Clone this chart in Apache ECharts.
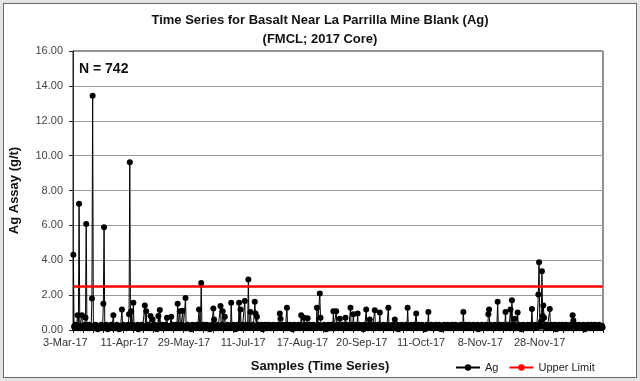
<!DOCTYPE html>
<html>
<head>
<meta charset="utf-8">
<script src="https://cdn.jsdelivr.net/npm/echarts@6/dist/echarts.min.js"></script>
<style>
html,body{margin:0;padding:0;background:#e4e4e4;}
#frame{position:absolute;left:3px;top:3px;width:632px;height:373px;border:1px solid #6a6a6a;background:#fff;}
#chart{position:absolute;left:-4px;top:-4px;width:640px;height:381px;}
</style>
</head>
<body>
<div id="frame"><div id="chart"></div></div>
<script>
// ---- data ----
const titleText = 'Time Series for Basalt Near La Parrilla Mine Blank (Ag)';
const subTitleText = '(FMCL; 2017 Core)';
const sampleCount = 742;
const tickLabels = ['3-Mar-17','11-Apr-17','29-May-17','11-Jul-17','17-Aug-17','20-Sep-17','11-Oct-17','8-Nov-17','28-Nov-17'];
const labelStep = 83;
const upperLimit = 2.5;
const yTicks = [0,2,4,6,8,10,12,14,16];
const agValues = [
4.32,0.2,0.1,0.3,0.15,0.2,0.84,0.1,7.24,0.2,0.1,0.25,0.84,0.15,0.1,0.2,0.3,0.7,6.08,0.2,
0.1,0.15,0.3,0.1,0.2,0.25,1.8,13.43,0.2,0.1,0.15,0.3,0.1,0.2,0.05,0.15,0.25,0.1,0.2,0.3,
0.1,0.2,1.5,5.89,0.15,0.1,0.3,0.2,0.05,0.15,0.25,0.1,0.2,0.3,0.15,0.1,0.84,0.2,0.1,0.25,
0.15,0.3,0.1,0.2,0.05,0.25,0.1,0.2,1.18,0.15,0.3,0.1,0.2,0.15,0.25,0.1,0.2,0.3,0.9,9.62,
0.2,1.08,0.15,0.3,1.56,0.1,0.2,0.25,0.1,0.15,0.3,0.05,0.2,0.1,0.25,0.15,0.3,0.1,0.2,0.15,
1.41,0.2,1.08,0.1,0.3,0.15,0.2,0.1,0.8,0.25,0.1,0.6,0.2,0.15,0.3,0.1,0.2,0.05,0.25,0.8,
0.15,1.14,0.2,0.1,0.3,0.15,0.25,0.1,0.2,0.3,0.1,0.7,0.2,0.15,0.1,0.25,0.2,0.76,0.1,0.3,
0.15,0.2,0.1,0.25,0.3,0.1,1.5,0.2,0.15,1.08,0.1,0.3,0.2,1.1,0.15,0.25,0.1,1.83,0.2,0.1,
0.3,0.15,0.2,0.1,0.25,0.05,0.2,0.3,0.1,0.15,0.2,0.25,0.1,0.3,0.15,0.2,1.18,0.1,0.25,2.7,
0.2,0.1,0.3,0.15,0.2,0.1,0.25,0.3,0.1,0.2,0.15,0.05,0.25,0.1,0.3,0.2,1.24,0.6,0.15,0.1,
0.2,0.3,0.1,0.25,0.15,0.2,1.37,0.1,0.3,1.08,0.2,0.15,0.76,0.1,0.25,0.2,0.3,0.1,0.15,0.2,
0.1,1.56,0.25,0.15,0.3,0.1,0.2,0.05,0.25,0.15,0.3,0.1,1.56,0.2,1.18,0.15,0.1,0.3,0.2,0.25,
1.66,0.1,0.2,0.3,0.15,2.9,0.2,0.1,1.03,0.25,0.15,0.3,0.1,0.2,1.62,0.95,0.2,0.76,0.1,0.3,
0.15,0.2,0.1,0.25,0.3,0.05,0.2,0.15,0.1,0.3,0.2,0.25,0.1,0.15,0.3,0.2,0.1,0.25,0.15,0.2,
0.3,0.1,0.2,0.15,0.25,0.1,0.3,0.2,0.15,0.95,0.65,0.2,0.1,0.3,0.15,0.25,0.1,0.2,0.3,1.28,
0.1,0.2,0.15,0.3,0.1,0.25,0.2,0.05,0.15,0.3,0.1,0.2,0.25,0.15,0.1,0.3,0.2,0.1,0.25,0.84,
0.15,0.2,0.1,0.7,0.3,0.15,0.2,0.1,0.67,0.25,0.1,0.3,0.2,0.15,0.1,0.25,0.3,0.1,0.2,0.15,
0.1,1.28,0.2,0.3,0.15,2.1,0.7,0.1,0.25,0.2,0.15,0.3,0.1,0.2,0.05,0.25,0.15,0.3,0.1,0.2,
0.25,0.1,0.3,0.15,1.08,0.2,0.1,0.25,1.08,0.15,0.3,0.1,0.2,0.65,0.15,0.25,0.1,0.3,0.2,0.15,
0.1,0.7,0.2,0.3,0.15,0.1,0.25,0.2,1.28,0.1,0.3,0.15,0.9,0.2,0.1,0.25,0.3,0.15,0.95,0.1,
0.2,0.3,0.15,0.1,0.25,0.2,0.05,0.3,0.15,0.1,1.18,0.2,0.25,0.1,0.3,0.6,0.15,0.2,0.1,0.25,
0.3,0.15,1.13,0.1,0.2,0.25,0.15,0.3,0.1,1.0,0.2,0.15,0.25,0.1,0.3,0.2,0.15,0.1,0.25,0.2,
0.3,1.28,0.1,0.2,0.15,0.25,0.1,0.3,0.2,0.15,0.6,0.1,0.25,0.2,0.3,0.05,0.15,0.2,0.1,0.25,
0.3,0.15,0.2,0.1,0.25,0.15,0.3,0.1,1.28,0.2,0.15,0.25,0.1,0.3,0.2,0.15,0.1,0.25,0.3,0.2,
0.95,0.1,0.15,0.3,0.2,0.25,0.1,0.15,0.3,0.2,0.1,0.25,0.05,0.2,0.15,0.3,0.1,1.03,0.2,0.25,
0.15,0.3,0.1,0.2,0.25,0.15,0.1,0.3,0.2,0.15,0.25,0.1,0.3,0.2,0.15,0.05,0.25,0.1,0.2,0.3,
0.15,0.1,0.25,0.2,0.3,0.1,0.15,0.2,0.25,0.1,0.3,0.15,0.2,0.1,0.25,0.3,0.15,0.2,0.1,0.25,
0.2,0.15,0.3,0.1,0.2,0.25,1.03,0.15,0.1,0.3,0.2,0.25,0.1,0.15,0.3,0.2,0.1,0.25,0.15,0.2,
0.3,0.1,0.2,0.15,0.25,0.1,0.3,0.05,0.2,0.15,0.25,0.1,0.3,0.2,0.15,0.1,0.25,0.2,0.3,0.15,
0.1,0.9,1.18,0.2,0.3,0.15,0.1,0.25,0.2,0.15,0.3,0.1,0.2,0.25,1.62,0.15,0.1,0.3,0.2,0.15,
0.25,0.1,0.3,0.2,0.15,1.03,0.1,0.25,0.2,0.3,0.15,0.1,1.18,0.2,1.71,0.25,0.15,0.3,0.65,0.1,
0.2,0.25,1.0,0.15,0.3,0.1,0.2,0.05,0.25,0.15,0.3,0.1,0.2,0.25,0.15,0.1,0.3,0.2,0.15,0.25,
0.1,0.3,1.2,0.2,0.15,0.25,0.1,0.3,0.2,0.15,0.25,2.04,3.89,0.3,0.2,0.5,3.37,0.8,1.41,0.7,
0.2,0.15,0.3,0.1,0.25,0.2,0.15,1.2,0.1,0.3,0.2,0.25,0.15,0.1,0.3,0.2,0.05,0.25,0.15,0.1,
0.3,0.2,0.15,0.25,0.1,0.3,0.2,0.15,0.1,0.25,0.3,0.2,0.15,0.1,0.25,0.2,0.3,0.15,0.1,0.84,
0.54,0.2,0.15,0.3,0.1,0.25,0.2,0.15,0.3,0.1,0.2,0.25,0.15,0.1,0.3,0.2,0.05,0.25,0.15,0.1,
0.3,0.2,0.15,0.25,0.1,0.3,0.2,0.15,0.1,0.25,0.3,0.2,0.15,0.1,0.25,0.2,0.3,0.15,0.1,0.2,
0.25,0.15
];
// ---- chart ----
const FONT = '"Liberation Sans", Arial, sans-serif';
const categories = agValues.map((v, i) => i);
const limitValues = agValues.map(() => upperLimit);
const chart = echarts.init(document.getElementById('chart'), null, {renderer: 'canvas'});
chart.setOption({
  animation: false,
  backgroundColor: 'transparent',
  textStyle: {fontFamily: FONT},
  title: {
    text: titleText + '\n' + subTitleText,
    left: 'center', top: 6,
    textStyle: {fontFamily: FONT, fontSize: 13, fontWeight: 'bold', color: '#111', lineHeight: 19}
  },
  grid: {left: 70, right: 37, top: 51, bottom: 51, show: true, borderColor: '#222', borderWidth: 1, backgroundColor: 'transparent'},
  legend: {
    left: 450, top: 357, itemGap: 10, itemWidth: 24, itemHeight: 8,
    textStyle: {fontFamily: FONT, fontSize: 11, color: '#222'},
    data: ['Ag', 'Upper Limit']
  },
  graphic: [{
    type: 'text', left: 79, top: 62,
    style: {text: 'N = 742', font: 'bold 14px ' + FONT, fill: '#111'}
  }],
  xAxis: {
    type: 'category', data: categories, boundaryGap: true,
    name: 'Samples (Time Series)', nameLocation: 'middle', nameGap: 30,
    nameTextStyle: {fontFamily: FONT, fontSize: 13, fontWeight: 'bold', color: '#111', padding: [0, 36, 0, 0]},
    axisLine: {lineStyle: {color: '#222', width: 1}},
    axisTick: {show: true, interval: 13, length: 3, lineStyle: {color: '#222'}},
    axisLabel: {
      interval: labelStep - 1, margin: 7, fontSize: 11, color: '#333', fontFamily: FONT,
      padding: [0, 16, 0, 0],
      formatter: (v, i) => tickLabels[Math.round(i / labelStep)] || ''
    },
    splitLine: {show: false}
  },
  yAxis: {
    type: 'value', min: 0, max: 16, interval: 2,
    name: 'Ag Assay (g/t)', nameLocation: 'middle', nameGap: 52, nameRotate: 90,
    nameTextStyle: {fontFamily: FONT, fontSize: 13, fontWeight: 'bold', color: '#111'},
    axisLine: {show: true, lineStyle: {color: '#222'}},
    axisTick: {show: true, length: 4, lineStyle: {color: '#222'}},
    axisLabel: {fontSize: 11, color: '#444', margin: 10, fontFamily: FONT, formatter: v => v.toFixed(2)},
    splitLine: {show: true, lineStyle: {color: '#9a9a9a', width: 1}}
  },
  series: [
    {
      name: 'Ag', type: 'line', data: agValues,
      symbol: 'circle', symbolSize: 6, showAllSymbol: true, showSymbol: true,
      itemStyle: {color: '#000'},
      lineStyle: {color: '#000', width: 1},
      z: 3
    },
    {
      name: 'Upper Limit', type: 'line', data: limitValues,
      showSymbol: false, symbol: 'none',
      itemStyle: {color: '#f00'},
      lineStyle: {color: '#f00', width: 2.5},
      z: 4
    }
  ]
});
</script>
</body>
</html>
